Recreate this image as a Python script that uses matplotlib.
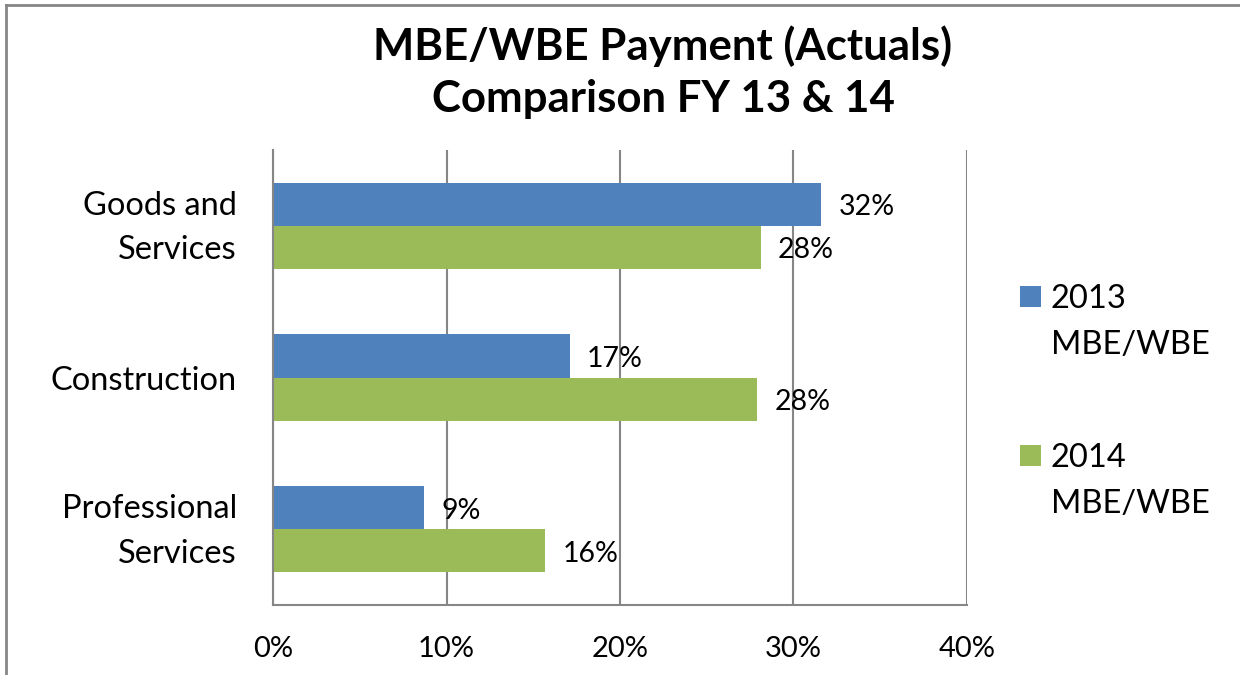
import matplotlib
matplotlib.use("Agg")
import matplotlib.pyplot as plt
import matplotlib.transforms as mtransforms
from matplotlib.patches import Rectangle
from matplotlib.lines import Line2D
import numpy as np

categories = ["Goods and\nServices", "Construction", "Professional\nServices"]
series_names = ["2013\nMBE/WBE", "2014\nMBE/WBE"]
values_2013 = [31.6, 17.1, 8.7]
values_2014 = [28.1, 27.9, 15.7]
labels_2013 = ["32%", "17%", "9%"]
labels_2014 = ["28%", "28%", "16%"]
xticks = [0, 10, 20, 30, 40]
xtick_labels = ["0%", "10%", "20%", "30%", "40%"]
title = "MBE/WBE Payment (Actuals)\nComparison FY 13 & 14"

blue = "#4F81BD"
green = "#9BBB59"
grid_c = "#868686"
colors = [blue, green]

plt.rcParams['font.family'] = ['Lato', 'DejaVu Sans']

W, H = 1240, 675
fig = plt.figure(figsize=(12.4, 6.75), dpi=100)
ax = fig.add_axes([273/W, 1-605/H, (967-273)/W, (605-150)/H])

y = np.arange(len(categories))
h = 0.285
ax.barh(y - h/2, values_2013, height=h, color=blue, edgecolor="none", zorder=3)
ax.barh(y + h/2, values_2014, height=h, color=green, edgecolor="none", zorder=3)

for yi, v, lab in zip(y - h/2, values_2013, labels_2013):
    ax.text(v + 1.0, yi + 0.02, lab, va="center", ha="left", fontsize=20.5, color="black", zorder=4)
for yi, v, lab in zip(y + h/2, values_2014, labels_2014):
    ax.text(v + 1.0, yi + 0.02, lab, va="center", ha="left", fontsize=20.5, color="black", zorder=4)

ax.set_ylim(len(categories) - 0.5, -0.5)
ax.set_xlim(0, 40)
ax.set_yticks(y)
ax.set_yticklabels(categories, fontsize=23.5, linespacing=1.6)
ax.set_xticks(xticks)
ax.set_xticklabels(xtick_labels, fontsize=21)
ax.tick_params(axis="both", length=0)
ax.tick_params(axis="y", pad=26)
ax.tick_params(axis="x", pad=22)
for lab in ax.get_yticklabels():
    lab.set_multialignment("right")
    if "\n" in lab.get_text():
        lab.set_transform(lab.get_transform() +
                          mtransforms.ScaledTranslation(0, 8/100, fig.dpi_scale_trans))

ax.grid(axis="x", color=grid_c, linewidth=1.5, zorder=1)
ax.set_axisbelow(True)
for s in ["top", "right"]:
    ax.spines[s].set_visible(False)
for s in ["left", "bottom"]:
    ax.spines[s].set_color(grid_c)
    ax.spines[s].set_linewidth(1.5)
    ax.spines[s].set_zorder(5)

fig.text(663/W, 1 - 72/H, title, ha="center", va="center", fontsize=31.5,
         fontweight="bold", linespacing=1.36)

# legend (marker aligned with the first line of each entry, as in the original)
legend_top = [296, 455]
for yc, name, c in zip(legend_top, series_names, colors):
    fig.add_artist(Rectangle((1020/W, 1-(yc+10.5)/H), 21/W, 21/H,
                             transform=fig.transFigure, facecolor=c, edgecolor="none"))
    first, second = name.split("\n")
    fig.text(1051/W, 1-yc/H, first, ha="left", va="center_baseline", fontsize=23.5)
    fig.text(1051/W, 1-(yc+46)/H, second, ha="left", va="center_baseline", fontsize=23.5)

# outer chart border (top and left visible)
fig.add_artist(Line2D([6/W, 6/W], [0, 1-5/H], transform=fig.transFigure, color=grid_c, linewidth=2))
fig.add_artist(Line2D([6/W, 1], [1-5/H, 1-5/H], transform=fig.transFigure, color=grid_c, linewidth=2))

fig.savefig("out.png", dpi=100)
